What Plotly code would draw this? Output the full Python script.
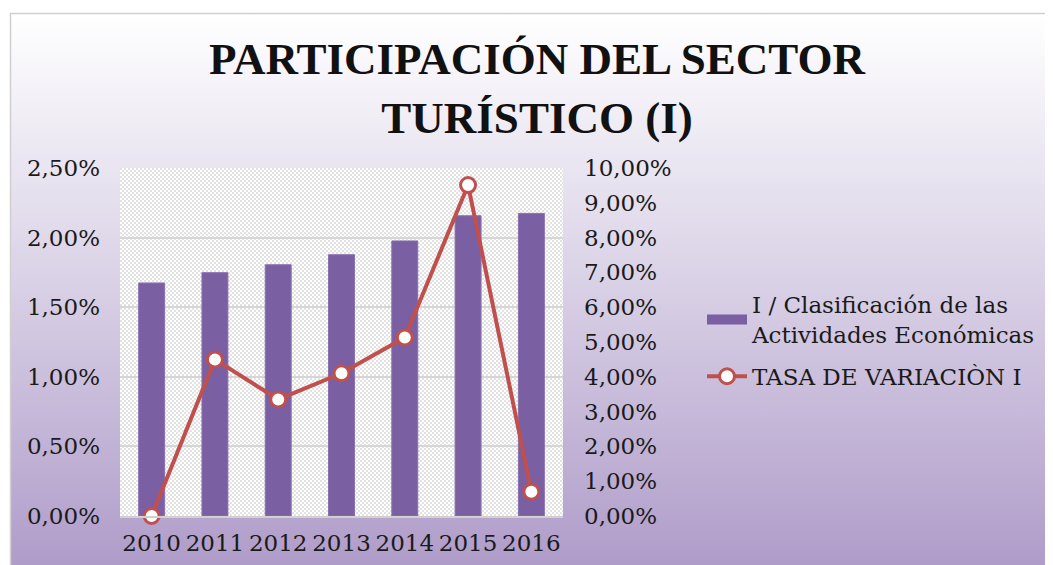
import base64
import plotly.graph_objects as go

years = ["2010", "2011", "2012", "2013", "2014", "2015", "2016"]
participacion = [0.01674, 0.01748, 0.01805, 0.01877, 0.01976, 0.02157, 0.02174]
tasa_variacion = [0.0, 0.0450, 0.0335, 0.0410, 0.0513, 0.0951, 0.0070]

bar_name = "I / Clasificación de las<br>Actividades Económicas"
line_name = "TASA DE VARIACIÒN I"

# page body has an 8px margin, so design coordinates are shifted by -8
OFF = 8
W, H = 1053, 565
L, T = 120 - OFF, 168 - OFF
PW, PH = 443, 348
R, B = W - L - PW, H - T - PH

svg = f'''<svg xmlns="http://www.w3.org/2000/svg" width="{W}" height="{H}" viewBox="0 0 {W} {H}">
<defs>
<linearGradient id="g" x1="0" y1="0" x2="0" y2="1">
<stop offset="0" stop-color="#ffffff"/>
<stop offset="0.45" stop-color="#d9d1e6"/>
<stop offset="1" stop-color="#a893c4"/>
</linearGradient>
<pattern id="p" width="4" height="4" patternUnits="userSpaceOnUse">
<rect width="4" height="4" fill="#ffffff"/>
<rect width="2" height="2" fill="#e2e2e2"/>
<rect x="2" y="2" width="2" height="2" fill="#e2e2e2"/>
</pattern>
</defs>
<rect width="{W}" height="{H}" fill="#ffffff"/>
<rect x="{10.5 - OFF}" y="{13.5 - OFF}" width="1100" height="600" fill="url(#g)" stroke="#d0d0d0" stroke-width="1.5"/>
<rect x="{L}" y="{T}" width="{PW}" height="{PH}" fill="url(#p)"/>
</svg>'''
src = "data:image/svg+xml;base64," + base64.b64encode(svg.encode()).decode()

bar_color = "#7a5fa2"
line_color = "#c0504d"

fig = go.Figure()
fig.add_trace(go.Bar(
    x=years, y=participacion, name=bar_name, showlegend=False, legendgroup="a",
    marker=dict(color=bar_color, line=dict(color="#8a70b0", width=1)),
    width=0.41, yaxis="y",
))
# legend-only entry to get a wide rectangular swatch like the original
fig.add_trace(go.Scatter(
    x=[None], y=[None], name=bar_name, mode="lines", yaxis="y", legendgroup="a",
    line=dict(color=bar_color, width=10),
))
fig.add_trace(go.Scatter(
    x=years, y=tasa_variacion, name=line_name, yaxis="y2", legendgroup="b",
    mode="lines+markers", cliponaxis=False,
    line=dict(color=line_color, width=4),
    marker=dict(symbol="circle", size=15, color="#ffffff", line=dict(color=line_color, width=3)),
))

font_fam = "DejaVu Serif"
fig.update_layout(
    width=W, height=H,
    margin=dict(l=L, r=R, t=T, b=B, pad=0),
    paper_bgcolor="#ffffff",
    plot_bgcolor="rgba(0,0,0,0)",
    separators=",.",
    font=dict(family=font_fam, size=23, color="#1a1a1a"),
    title=dict(
        text="<b>PARTICIPACIÓN DEL SECTOR<br>TURÍSTICO (I)</b>",
        x=(537 - OFF) / W, xanchor="center", y=1 - 66 / H, yanchor="top",
        font=dict(family="Liberation Serif", size=45, color="#111111"),
    ),
    images=[dict(
        source=src, xref="paper", yref="paper",
        x=-L / PW, y=1 + T / PH, sizex=W / PW, sizey=H / PH,
        xanchor="left", yanchor="top", sizing="stretch", layer="below",
    )],
    xaxis=dict(
        type="category", showgrid=False, showline=True, linecolor="#d0d0d0", linewidth=2,
        ticks="", tickfont=dict(size=23), ticklabelstandoff=5,
    ),
    yaxis=dict(
        range=[0, 0.025], dtick=0.005, tickformat=".2%", showgrid=True,
        gridcolor="#d6d6d6", gridwidth=1.5, zeroline=False, showline=False, ticks="",
        tickfont=dict(size=23), ticklabelstandoff=19,
    ),
    yaxis2=dict(
        range=[0, 0.10], dtick=0.01, tickformat=".2%", overlaying="y", side="right",
        showgrid=False, zeroline=False, showline=False, ticks="",
        tickfont=dict(size=23), ticklabelstandoff=20,
    ),
    legend=dict(
        x=(702 - OFF - L) / PW, y=(T + PH - (283 - OFF)) / PH, xanchor="left", yanchor="top",
        bgcolor="rgba(0,0,0,0)", font=dict(size=23, family=font_fam),
        tracegroupgap=9, itemwidth=40,
    ),
    showlegend=True,
    bargap=0.59,
)

fig.write_html("out.html")
